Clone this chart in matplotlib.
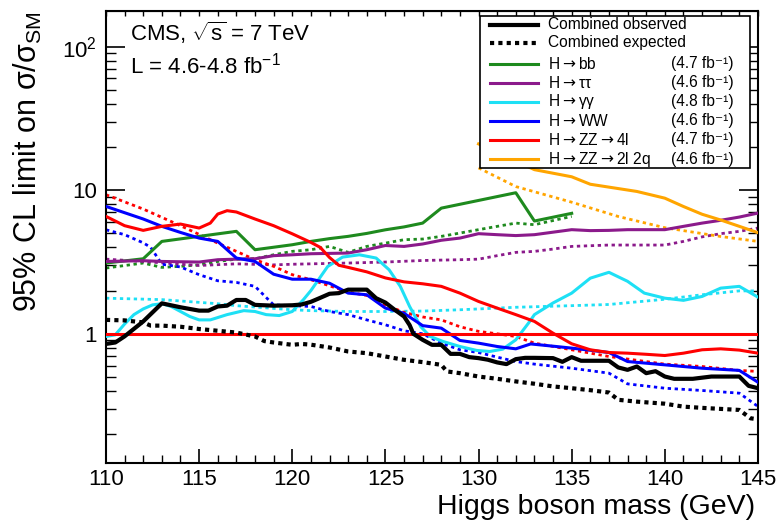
import matplotlib
matplotlib.use("Agg")
import matplotlib.pyplot as plt
from matplotlib.lines import Line2D
from matplotlib.patches import Rectangle
from matplotlib.ticker import MultipleLocator, FixedLocator, LogLocator, NullFormatter, FuncFormatter

plt.rcParams['font.family'] = ['Liberation Sans', 'DejaVu Sans']
plt.rcParams['mathtext.fontset'] = 'custom'
plt.rcParams['mathtext.rm'] = 'Liberation Sans'
plt.rcParams['mathtext.it'] = 'Liberation Sans:italic'
plt.rcParams['mathtext.bf'] = 'Liberation Sans:bold'
plt.rcParams['mathtext.sf'] = 'Liberation Sans'

# combined observed / expected limits
obs_mass = [110, 110.5, 111, 112, 113, 114, 115, 115.5, 116, 116.5, 117, 117.5, 118, 119, 120,
            120.5, 121, 121.5, 122, 122.5, 123, 124, 124.5, 125, 125.5, 126, 126.3, 126.5, 127,
            127.5, 128, 128.5, 129, 129.5, 130, 130.5, 131, 131.5, 132, 132.5, 133, 134, 134.5,
            135, 135.5, 137, 137.5, 138, 138.5, 139, 139.5, 140, 140.5, 141.5, 142.5, 144, 144.5, 145]
obs_val = [0.85, 0.87, 0.96, 1.22, 1.63, 1.53, 1.45, 1.45, 1.55, 1.57, 1.72, 1.72, 1.59, 1.57, 1.58,
           1.60, 1.67, 1.78, 1.90, 1.92, 2.03, 2.03, 1.77, 1.65, 1.47, 1.32, 1.15, 1.0, 0.908,
           0.838, 0.838, 0.725, 0.725, 0.688, 0.677, 0.66, 0.632, 0.615, 0.666, 0.68, 0.68, 0.677, 0.638,
           0.688, 0.649, 0.649, 0.583, 0.561, 0.592, 0.532, 0.549, 0.504, 0.486, 0.486, 0.504, 0.504, 0.434, 0.418]

exp_mass = [110, 111, 112, 112.4, 113, 114, 115, 116, 117, 118, 118.5, 119, 120, 120.5, 121, 122, 123,
            124, 125, 126, 127, 128, 128.3, 129, 130, 131, 132, 133, 134, 135, 136, 137, 137.5, 138.5,
            140, 141, 142, 144, 144.6, 145]
exp_val = [1.25, 1.24, 1.20, 1.14, 1.14, 1.12, 1.08, 1.05, 1.02, 0.958, 0.89, 0.87, 0.838, 0.85, 0.84,
           0.803, 0.753, 0.733, 0.695, 0.659, 0.635, 0.608, 0.547, 0.532, 0.504, 0.486, 0.466, 0.449,
           0.43, 0.418, 0.405, 0.39, 0.347, 0.337, 0.326, 0.311, 0.305, 0.295, 0.258, 0.254]

# H -> bb
bb_mass = [110, 112, 113, 117, 118, 120, 121, 122, 123, 124, 125, 126, 127, 128, 132, 133, 135]
bb_obs = [3.11, 3.33, 4.40, 5.17, 3.85, 4.17, 4.4, 4.6, 4.77, 5.0, 5.3, 5.55, 5.9, 7.5, 9.6, 6.1, 6.9]
bb_exp_mass = [110, 112, 113, 114, 115, 116, 117, 118, 119, 120, 121, 122, 123, 124, 125, 126, 127,
               128, 129, 130, 131, 132, 133, 135]
bb_exp = [2.87, 3.11, 2.9, 2.95, 3.02, 3.19, 3.31, 3.33, 3.55, 3.75, 3.85, 4.06, 3.69, 4.06, 4.28,
          4.52, 4.57, 4.77, 5.03, 5.31, 5.6, 5.9, 5.75, 6.57]

# H -> tautau
tt_mass = [110, 112, 113, 115, 116, 117, 118, 119, 120, 121, 123, 124, 125, 126, 127, 128, 129, 130,
           131, 132, 133, 135, 136, 137, 138, 140, 141, 142, 143, 144, 145]
tt_obs = [3.19, 3.23, 3.19, 3.16, 3.28, 3.31, 3.33, 3.5, 3.55, 3.61, 3.65, 3.85, 4.12, 4.06, 4.22,
          4.48, 4.64, 4.98, 4.9, 4.83, 4.9, 5.31, 5.23, 5.25, 5.31, 5.31, 5.6, 5.9, 6.17, 6.5, 6.93]
tt_exp_mass = [110, 112, 114, 115, 117, 119, 120, 121, 123, 125, 127, 129, 130, 131, 132, 133, 134,
               135, 137, 140, 141, 142, 143, 144, 145]
tt_exp = [3.31, 3.19, 3.05, 2.99, 3.07, 3.02, 3.05, 3.07, 3.11, 3.16, 3.24, 3.28, 3.31, 3.5, 3.69,
          3.75, 3.89, 4.06, 4.15, 4.15, 4.4, 4.73, 4.98, 5.17, 5.45]

# H -> gammagamma
gg_mass = [110, 110.5, 111, 111.5, 112, 112.5, 113, 113.5, 114, 114.5, 115, 115.6, 116.5, 117.4, 118,
           118.6, 119.3, 120, 120.6, 121, 121.9, 122.7, 123.6, 124.5, 125.2, 125.8, 126.3, 126.9,
           127.4, 128.1, 129, 129.9, 130.6, 131.3, 132, 132.75, 133, 134, 135, 136, 137, 138, 138.9,
           140, 141, 142, 143, 144, 145]
gg_obs = [0.958, 0.984, 1.17, 1.36, 1.49, 1.59, 1.62, 1.55, 1.43, 1.32, 1.25, 1.25, 1.36, 1.45, 1.43,
          1.36, 1.34, 1.43, 1.73, 2.0, 2.94, 3.42, 3.55, 3.37, 2.79, 2.14, 1.55, 1.12,
          0.958, 0.884, 0.816, 0.766, 0.753, 0.782, 0.908, 1.22, 1.36, 1.64, 1.92, 2.44, 2.68, 2.32, 1.92,
          1.77, 1.71, 1.82, 2.08, 2.14, 1.8]
gg_exp_mass = [110, 113, 116, 117, 120, 121, 123, 125, 127, 129, 131, 132, 135, 137, 140, 142, 144, 145]
gg_exp = [1.77, 1.73, 1.62, 1.57, 1.47, 1.45, 1.43, 1.43, 1.44, 1.47, 1.51, 1.53, 1.57, 1.6, 1.74,
          1.87, 1.99, 1.99]

# H -> WW
ww_mass = [110, 112, 113, 114, 115, 116, 117, 118, 119, 120, 121, 122, 123, 124, 125, 126, 127, 128,
           129, 130, 131, 132, 132.8, 134, 135, 137, 138, 140, 142, 144, 145]
ww_obs = [7.71, 6.3, 5.6, 5.08, 4.64, 4.4, 3.37, 3.19, 2.6, 2.4, 2.4, 2.25, 1.92, 1.87, 1.51, 1.39,
          1.14, 1.095, 0.899, 0.861, 0.816, 0.786, 0.85, 0.82, 0.795, 0.741, 0.641, 0.608, 0.576,
          0.556, 0.46]
ww_exp_mass = [110, 111, 112, 112.4, 113, 114, 115, 116, 117, 118, 119, 120, 121, 122, 123, 124, 125,
               126, 127, 128, 129, 130, 131, 132, 133, 135, 137, 138, 140, 142, 144, 145]
ww_exp = [5.3, 4.9, 4.3, 4.0, 3.05, 2.92, 2.58, 2.34, 2.28, 2.14, 1.59, 1.57, 1.55, 1.43, 1.36, 1.25,
          1.155, 1.05, 1.0, 0.861, 0.774, 0.741, 0.688, 0.641, 0.615, 0.576, 0.532, 0.448, 0.418,
          0.403, 0.386, 0.312]

# H -> ZZ -> 4l
zz4l_mass = [110, 111, 112, 113, 114, 115, 115.6, 116, 116.5, 117, 118, 119, 120, 121, 121.5, 122,
             122.5, 123, 124, 125, 126, 127, 128, 129, 130, 131, 132, 133, 134, 135, 136, 137, 138,
             139, 140, 141, 142, 143, 144, 145]
zz4l_obs = [6.57, 5.66, 5.25, 5.6, 5.81, 5.45, 5.9, 6.82, 7.2, 7.05, 6.3, 5.66, 4.97, 4.33, 4.0, 3.4,
            3.0, 2.9, 2.7, 2.45, 2.3, 2.23, 2.14, 1.92, 1.68, 1.51, 1.36, 1.22, 1.01, 0.852, 0.774,
            0.741, 0.733, 0.72, 0.706, 0.733, 0.774, 0.786, 0.77, 0.733]
zz4l_exp_mass = [110, 112, 114, 116, 117, 118, 119, 120, 121, 122, 123, 124, 125, 126, 127, 128, 129,
                 130, 131, 132, 133, 135, 137, 140, 142, 144, 145]
zz4l_exp = [9.3, 7.39, 5.66, 4.28, 3.75, 3.28, 2.95, 2.58, 2.38, 2.16, 1.95, 1.85, 1.59, 1.41, 1.31,
            1.25, 1.12, 1.04, 1.0, 0.958, 0.861, 0.774, 0.695, 0.615, 0.592, 0.556, 0.547]

# H -> ZZ -> 2l 2q
zz2q_mass = [130, 133, 135, 136, 138.5, 140, 141, 142, 143, 145]
zz2q_obs = [21.0, 13.9, 12.4, 11.0, 9.8, 8.8, 7.7, 6.8, 6.2, 5.06]
zz2q_exp_mass = [130, 132, 135, 137.5, 140, 143, 145]
zz2q_exp = [14.3, 10.6, 8.25, 6.56, 5.48, 4.76, 4.4]

arrow = r"$\rightarrow$"
channels = [
    (f"H{arrow}bb", "(4.7 fb⁻¹)", "#1e8a1e", bb_mass, bb_obs, bb_exp_mass, bb_exp),
    (f"H{arrow}ττ", "(4.6 fb⁻¹)", "#8b1a8b", tt_mass, tt_obs, tt_exp_mass, tt_exp),
    (f"H{arrow}γγ", "(4.8 fb⁻¹)", "#1ee0f5", gg_mass, gg_obs, gg_exp_mass, gg_exp),
    (f"H{arrow}WW", "(4.6 fb⁻¹)", "#0000ff", ww_mass, ww_obs, ww_exp_mass, ww_exp),
    (f"H{arrow}ZZ{arrow}4l", "(4.7 fb⁻¹)", "#ff0000", zz4l_mass, zz4l_obs, zz4l_exp_mass, zz4l_exp),
    (f"H{arrow}ZZ{arrow}2l 2q", "(4.6 fb⁻¹)", "#ffa500", zz2q_mass, zz2q_obs, zz2q_exp_mass, zz2q_exp),
]

fig = plt.figure(figsize=(7.81, 5.25), dpi=100)
ax = fig.add_axes([0.1357, 0.1181, 0.8348, 0.861])

col_dots = (0, (1.2, 1.3))
for name, lumi, col, m_o, v_o, m_e, v_e in channels:
    ax.plot(m_e, v_e, color=col, lw=2.0, linestyle=col_dots, zorder=2)
for name, lumi, col, m_o, v_o, m_e, v_e in channels:
    ax.plot(m_o, v_o, color=col, lw=2.2, zorder=3)

ax.axhline(1.0, color='#ff0000', lw=2.2, zorder=3)
ax.plot(exp_mass, exp_val, color='black', lw=3.0, linestyle=(0, (1, 1)), zorder=4)
ax.plot(obs_mass, obs_val, color='black', lw=3.0, zorder=5)

ax.set_yscale('log')
ax.set_xlim(110, 145)
ax.set_ylim(0.126, 177)

ax.xaxis.set_major_locator(MultipleLocator(5))
ax.xaxis.set_minor_locator(MultipleLocator(1))
ax.xaxis.set_major_formatter(FuncFormatter(lambda v, p: f"{v:.0f}"))
ax.yaxis.set_major_locator(FixedLocator([1, 10, 100]))
ax.yaxis.set_minor_locator(LogLocator(base=10, subs=range(2, 10)))
ax.yaxis.set_major_formatter(FuncFormatter(lambda v, p: {1: "1", 10: "10", 100: "10$^2$"}.get(int(round(v)), "")))
ax.yaxis.set_minor_formatter(NullFormatter())

ax.tick_params(axis='x', which='major', direction='in', length=10, width=1.2, labelsize=16, pad=4,
               top=False, bottom=True)
ax.tick_params(axis='x', which='minor', direction='in', length=5.8, width=1.0, top=False, bottom=True)
ax.tick_params(axis='y', which='major', direction='in', length=13.7, width=1.2, labelsize=16, pad=6.5,
               left=True, right=True)
ax.tick_params(axis='y', which='minor', direction='in', length=7.2, width=1.0, left=True, right=True)

top = ax.secondary_xaxis('top')
top.xaxis.set_major_locator(MultipleLocator(5))
top.xaxis.set_minor_locator(MultipleLocator(1))
top.tick_params(which='both', direction='in', length=3.6, width=1.0, labeltop=False, labelbottom=False)

for sp in ax.spines.values():
    sp.set_linewidth(1.5)

ax.set_xlabel("Higgs boson mass (GeV)", fontsize=20.5, loc='right')
ax.xaxis.set_label_coords(0.9954, -0.0695)
ax.set_ylabel("95% CL limit on σ/σ$_{\\mathrm{SM}}$", fontsize=22, loc='top')
ax.yaxis.set_label_coords(-0.095, 1.0)

ax.text(0.037, 0.934, r"CMS, $\sqrt{\mathrm{s}}$ = 7 TeV", transform=ax.transAxes, fontsize=16,
        va='baseline', ha='left')
ax.text(0.037, 0.862, "L = 4.6-4.8 fb$^{-1}$", transform=ax.transAxes, fontsize=16,
        va='baseline', ha='left')

# legend box drawn by hand so the luminosity column lines up
ax.add_patch(Rectangle((0.5736, 0.6527), 0.4141, 0.3369, transform=ax.transAxes, facecolor='white',
                       edgecolor='black', lw=1.2, zorder=10))
rows = [0.969, 0.930, 0.8827, 0.8414, 0.7993, 0.7573, 0.7146, 0.6719]
entries = [("Combined observed", None, 'black', '-', 3.0),
           ("Combined expected", None, 'black', (0, (1, 1)), 3.0)]
entries += [(name, lumi, col, '-', 2.2) for name, lumi, col, *_ in channels]
for y, (label, lumi, col, ls, lw) in zip(rows, entries):
    ax.add_line(Line2D([0.589, 0.6626], [y, y], transform=ax.transAxes, color=col, lw=lw,
                       linestyle=ls, zorder=11))
    ax.text(0.678, y, label, transform=ax.transAxes, fontsize=11.2, va='center', ha='left', zorder=11,
            math_fontfamily='dejavusans')
    if lumi:
        ax.text(0.867, y, lumi, transform=ax.transAxes, fontsize=11.2, va='center', ha='left', zorder=11)

fig.savefig("out.png", dpi=100)
